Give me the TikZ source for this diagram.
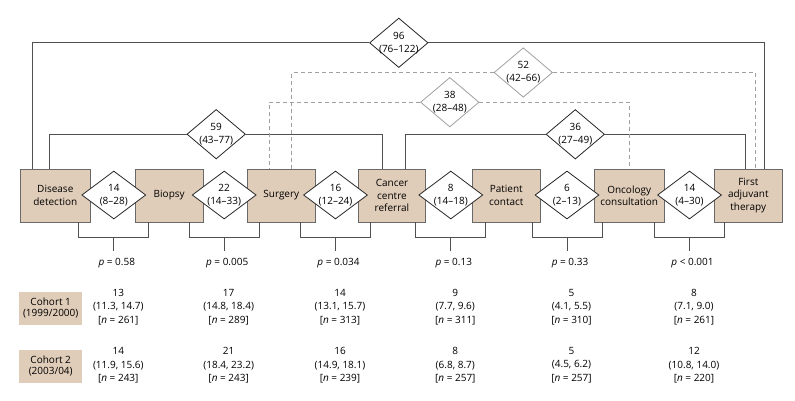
\documentclass[tikz,border=0pt]{standalone}
\usepackage{fontspec}
\setmainfont{Open Sans}
\definecolor{stagefill}{RGB}{224,205,185}
\definecolor{stageedge}{RGB}{105,105,105}
\definecolor{linkgray}{RGB}{80,80,80}
\definecolor{dashgray}{RGB}{160,160,160}
\usetikzlibrary{shapes.geometric,calc,positioning}

\begin{document}
\begin{tikzpicture}[x=1pt,y=-1pt,
    font=\fontsize{10}{12.3}\selectfont,
    stage/.style={draw=stageedge,fill=stagefill,line width=0.9pt,align=center,
        inner sep=1pt,minimum width=67.5pt,minimum height=53pt},
    gap/.style={diamond,draw=black!85,fill=white,line width=0.8pt,inner sep=0pt,
        minimum width=64pt,minimum height=48pt,
        label={[align=center,inner sep=0pt,font=\fontsize{10}{13}\selectfont]center:#1}},
    span/.style={gap={#1},minimum width=58.5pt,minimum height=49.5pt},
    dspan/.style={span={#1},draw=dashgray},
    link/.style={draw=linkgray,line width=0.8pt},
    dlink/.style={draw=dashgray,line width=0.8pt,dash pattern=on 4pt off 3pt},
    pval/.style={inner sep=2pt},
    cell/.style={align=center,inner sep=0pt,font=\fontsize{10}{13.3}\selectfont},
    cohort/.style={fill=stagefill,align=center,inner sep=0pt,
        minimum width=62.5pt,minimum height=33pt,font=\fontsize{10}{11.4}\selectfont}]
    \useasboundingbox (0,0) rectangle (795,400);

    % care pathway stages
    \node[stage,minimum width=70.5pt] (dd) at (55.3,195.5) {Disease\\detection};
    \node[stage] (bio) at (169.2,195.5) {Biopsy};
    \node[stage] (sur) at (281.3,195.5) {Surgery};
    \node[stage] (ccr) at (392,195.5) {Cancer\\centre\\referral};
    \node[stage] (pc) at (506.3,195.5) {Patient\\contact};
    \node[stage,minimum width=70.5pt] (oc) at (629.2,195.5) {Oncology\\consultation};
    \node[stage] (fat) at (748.3,195.5) {First\\adjuvant\\therapy};

    % intervals between neighbouring stages
    \node[gap={14\\(8--28)}] (g1) at (113.8,195) {};
    \node[gap={22\\(14--33)}] (g2) at (224.2,195) {};
    \node[gap={16\\(12--24)}] (g3) at (335.5,195) {};
    \node[gap={8\\(14--18)}] (g4) at (450.8,195) {};
    \node[gap={6\\(2--13)}] (g5) at (567,195) {};
    \node[gap={14\\(4--30)}] (g6) at (689.5,195) {};

    % longer intervals
    \node[span={96\\(76--122)}] (d96) at (398.8,42.8) {};
    \node[span={59\\(43--77)}] (d59) at (216.2,134.2) {};
    \node[span={36\\(27--49)}] (d36) at (575.3,134.3) {};
    \node[dspan={38\\(28--48)}] (d38) at (449.8,102.2) {};
    \node[dspan={52\\(42--66)}] (d52) at (523.3,72.5) {};

    \draw[link] (d96.west) -| ([xshift=-22.6pt]dd.north);
    \draw[link] (d96.east) -| ([xshift=16pt]fat.north);
    \draw[link] (d59.west) -| ([xshift=-6pt]dd.north);
    \draw[link] (d59.east) -| ([xshift=-9.3pt]ccr.north);
    \draw[link] (d36.west) -| ([xshift=13pt]ccr.north);
    \draw[link] (d36.east) -| ([xshift=-2.6pt]fat.north);
    \draw[dlink] (d38.west) -| ([xshift=-12pt]sur.north);
    \draw[dlink] (d38.east) -| (oc.north);
    \draw[dlink] (d52.west) -| ([xshift=10.4pt]sur.north);
    \draw[dlink] (d52.east) -| ([xshift=6.7pt]fat.north);

    % cohort comparison brackets and p values
    \foreach \g/\pv [count=\i] in {g1/= 0.58, g2/= 0.005, g3/= 0.034,
                                   g4/= 0.13, g5/= 0.33, g6/< 0.001}{
        \draw[link] ($(\g |- dd.south)+(-35,0)$) -- ++(0,14.7) -| ($(\g |- dd.south)+(35,0)$);
        \draw[link] ($(\g |- dd.south)+(0,14.7)$) -- ++(0,14)
            node[pval,below=5pt,xshift=3pt] (p\i) {\textit{p} \pv};
    }

    % cohorts
    \node[cohort] (co1) at (50.7,308) {Cohort 1\\(1999/2000)};
    \node[cohort] (co2) at (50.7,366.2) {Cohort 2\\(2003/04)};

    \foreach \i/\ma/\ca/\na/\mb/\cb/\nb in {
        1/13/{11.3, 14.7}/261/14/{11.9, 15.6}/243,
        2/17/{14.8, 18.4}/289/21/{18.4, 23.2}/243,
        3/14/{13.1, 15.7}/313/16/{14.9, 18.1}/239,
        4/9/{7.7, 9.6}/311/8/{6.8, 8.7}/257,
        5/5/{4.1, 5.5}/310/5/{4.5, 6.2}/257,
        6/8/{7.1, 9.0}/261/12/{10.8, 14.0}/220}{
        \node[cell] (a\i) at ($(p\i.center |- co1.center)+(1.5,-1)$) {\ma\\(\ca)\\{[}\textit{n} = \na{]}};
        \node[cell] (b\i) at ($(p\i.center |- co2.center)+(1.5,-1)$) {\mb\\(\cb)\\{[}\textit{n} = \nb{]}};
    }
\end{tikzpicture}
\end{document}
